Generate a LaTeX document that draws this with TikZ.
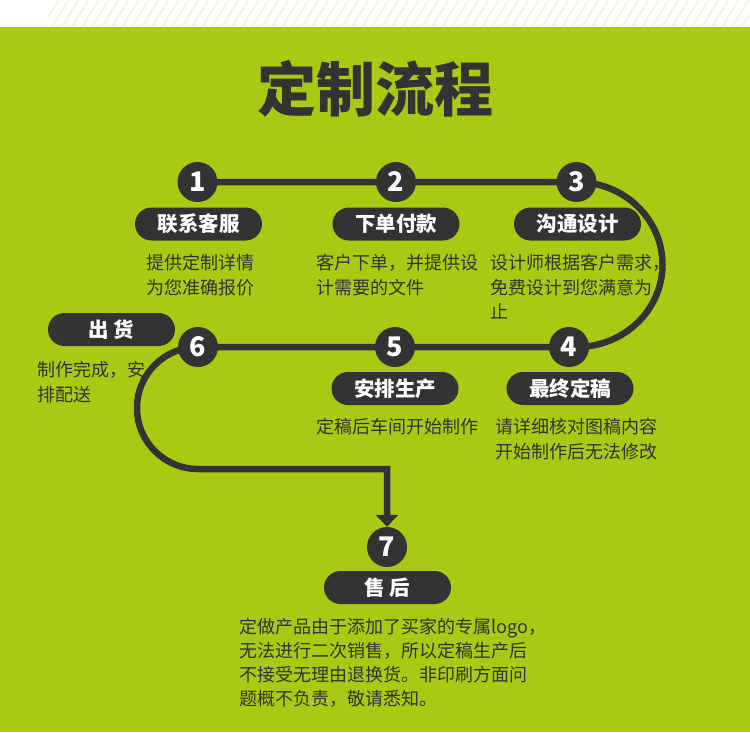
\documentclass[tikz,border=0pt]{standalone}
\usepackage{fontspec}
\setmainfont{Noto Sans CJK SC}
\usetikzlibrary{arrows.meta, backgrounds}
\definecolor{verde}{HTML}{A9CA12}
\definecolor{oscuro}{HTML}{333333}
\definecolor{rayas}{HTML}{F2F4E6}

\begin{document}
\begin{tikzpicture}[x=1pt, y=-1pt, >={Triangle[length=12pt, width=22pt]},
  linea/.style={line width=6.5pt, draw=oscuro},
  num/.style={circle, fill=oscuro, text=white, minimum size=40pt, inner sep=0pt,
    font=\fontsize{27}{27}\bfseries},
  pill/.style={fill=oscuro, text=white, rounded corners=16.5pt, minimum width=127pt,
    minimum height=33pt, inner sep=0pt, font=\fontsize{20.5}{22}\bfseries},
  desc/.style={anchor=north west, inner sep=0pt, align=left, text=oscuro,
    font=\fontsize{18}{24.5}\selectfont}]
  \useasboundingbox (0,0) rectangle (750,732);
  % titulo
  \node[text=oscuro, font=\fontsize{59}{60}\bfseries] (titulo) at (375,88.5) {定制流程};
  % circulos numerados
  \node[num] (c1) at (197.5,182) {1};
  \node[num] (c2) at (396,182) {2};
  \node[num] (c3) at (576.5,182) {3};
  \node[num] (c4) at (569,347) {4};
  \node[num] (c5) at (395,347) {5};
  \node[num] (c6) at (198,347) {6};
  \node[num] (c7) at (387,547) {7};
  % etiquetas
  \node[pill] (p1) at (198.5,224) {联系客服};
  \node[pill] (p2) at (396,224) {下单付款};
  \node[pill] (p3) at (577.5,224) {沟通设计};
  \node[pill] (p4) at (570,388.5) {最终定稿};
  \node[pill] (p5) at (395,388.5) {安排生产};
  \node[pill] (p6) at (111.5,329.5) {出 货};
  \node[pill] (p7) at (387.5,587.5) {售 后};
  % descripciones
  \node[desc] (t1) at (146,254.5) {提供定制详情\\为您准确报价};
  \node[desc] (t2) at (316,254.5) {客户下单，并提供设\\计需要的文件};
  \node[desc] (t3) at (490,254.5) {设计师根据客户需求，\\免费设计到您满意为\\止};
  \node[desc] (t4) at (495,418.5) {请详细核对图稿内容\\开始制作后无法修改};
  \node[desc] (t5) at (316,418.5) {定稿后车间开始制作};
  \node[desc] (t6) at (37,361.5) {制作完成，安\\排配送};
  \node[desc, font=\fontsize{18}{24}\selectfont] (t7) at (239,618.5)
    {定做产品由于添加了买家的专属logo，\\无法进行二次销售，所以定稿生产后\\不接受无理由退换货。非印刷方面问\\题概不负责，敬请悉知。};
  \begin{scope}[on background layer]
    % fondo verde y franja rayada
    \fill[verde] (0,27) rectangle (750,732);
    \begin{scope}
      \clip (48,0) rectangle (750,27);
      \foreach \i in {0,...,72}
        \draw[rayas, line width=2pt] (32+10*\i,27) -- ++(16.5,-27);
    \end{scope}
    % recorrido 1 -> 7
    \draw[linea, ->] (c1.center) -- (c3.center)
      arc[start angle=-90, end angle=90, x radius=86, y radius=82.5] -- (c6.center)
      arc[start angle=-90, end angle=-270, x radius=61, y radius=61] -| (c7.north);
  \end{scope}
\end{tikzpicture}
\end{document}
